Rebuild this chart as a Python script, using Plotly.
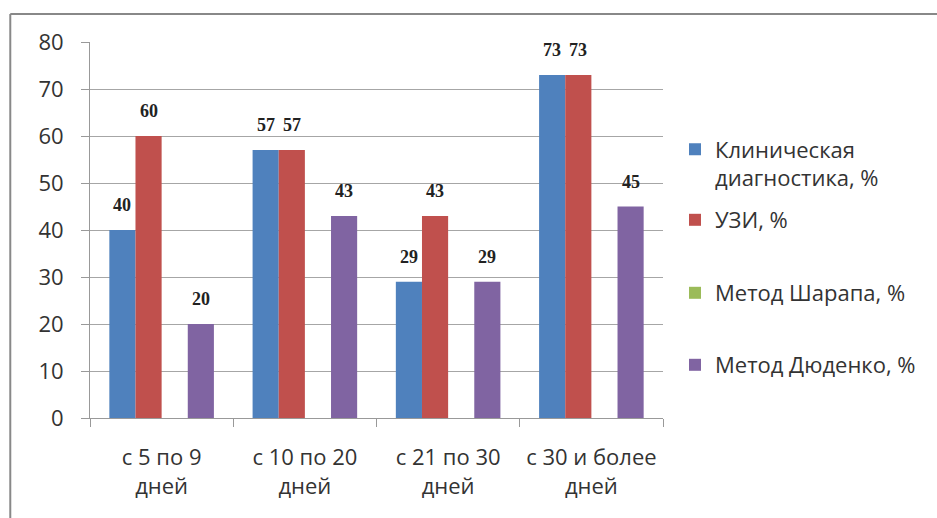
import plotly.graph_objects as go

categories = ["с 5 по 9<br>дней", "с 10 по 20<br>дней", "с 21 по 30<br>дней", "с 30 и более<br>дней"]
series_names = ["Клиническая<br>диагностика, %", "УЗИ, %", "Метод Шарапа, %", "Метод Дюденко, %"]
clinical = [40, 57, 29, 73]
uzi = [60, 57, 43, 73]
sharapa = [0, 0, 0, 0]
dudenko = [20, 43, 29, 45]
y_ticks = [0, 10, 20, 30, 40, 50, 60, 70, 80]

colors = ["#4F81BD", "#C0504D", "#9BBB59", "#8064A2"]
all_series = [clinical, uzi, sharapa, dudenko]

W, H = 937, 518
L, R, T, B = 90, 272, 42, 100
pw, ph = W - L - R, H - T - B
BARGAP = 0.27
FONT = "Open Sans, Noto Sans, sans-serif"
TXT = "#333333"

fig = go.Figure()
legend_names = ["legend", "legend2", "legend3", "legend4"]
for i, (name, vals) in enumerate(zip(series_names, all_series)):
    fig.add_trace(go.Bar(
        x=categories, y=vals, name=name,
        marker=dict(color=colors[i], line=dict(width=0)),
        legend=legend_names[i],
    ))

# data labels (non-zero values) above bar centres
n = len(all_series)
slot = (1 - BARGAP) / n
for k, vals in enumerate(all_series):
    for ci, v in enumerate(vals):
        if v == 0:
            continue
        fig.add_annotation(
            x=ci + (k - (n - 1) / 2) * slot, y=v, xref="x", yref="y",
            text=f"<b>{v}</b>", showarrow=False, yanchor="bottom",
            yshift=13, font=dict(family="Liberation Serif, serif", size=18, color="#222222"),
        )

# legends: positioned individually
leg_y = [164, 220, 293, 365]
leg_common = dict(
    xref="container", yref="container", xanchor="left", yanchor="middle",
    font=dict(family=FONT, size=22, color=TXT), bgcolor="rgba(0,0,0,0)",
)
legend_layout = {}
for i, ln in enumerate(legend_names):
    d = dict(leg_common)
    d["x"] = 675 / W
    d["y"] = 1 - leg_y[i] / H
    if i == 0:
        d["valign"] = "top"
    legend_layout[ln] = d

fig.update_layout(
    width=W, height=H,
    margin=dict(l=L, r=R, t=T, b=B),
    paper_bgcolor="white", plot_bgcolor="white",
    barmode="group", bargap=BARGAP, bargroupgap=0,
    showlegend=True,
    **legend_layout,
    xaxis=dict(
        type="category", tickson="boundaries", ticks="outside", ticklen=8,
        tickcolor="#999999", showline=True, linecolor="#999999", linewidth=1,
        showgrid=False, tickfont=dict(family=FONT, size=22, color=TXT),
        ticklabelstandoff=20,
    ),
    yaxis=dict(
        range=[0, 80], tickvals=y_ticks, ticks="outside", ticklen=8,
        tickcolor="#999999", showline=True, linecolor="#999999", linewidth=1,
        showgrid=True, gridcolor="#a6a6a6", gridwidth=1, zeroline=False,
        tickfont=dict(family=FONT, size=22, color=TXT), ticklabelstandoff=13,
    ),
    shapes=[
        dict(type="line", xref="paper", yref="paper",
             x0=(10 - L) / pw, x1=(W + 5 - L) / pw, y0=(H - B - 14) / ph, y1=(H - B - 14) / ph,
             line=dict(color="#888888", width=2)),
        dict(type="line", xref="paper", yref="paper",
             x0=(10 - L) / pw, x1=(10 - L) / pw, y0=(H - B - 14) / ph, y1=(H - B - H - 5) / ph,
             line=dict(color="#888888", width=2)),
    ],
)

fig.write_html("out.html")
